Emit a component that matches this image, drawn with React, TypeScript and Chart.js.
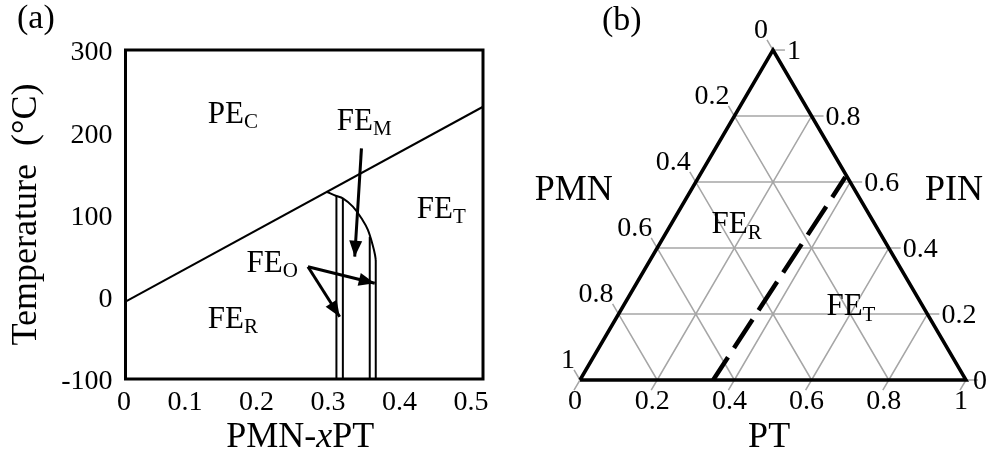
import React, { useEffect, useRef } from 'react';
import { Chart, registerables } from 'chart.js';

Chart.register(...registerables);

const SERIF = '"Liberation Serif", "Times New Roman", Times, serif';
const INK = '#000000';
const GRID_GREY = '#a6a6a6';

// ---------- (a) PMN-xPT phase diagram ----------
const X_MIN = 0;
const X_MAX = 0.5;
const X_STEP = 0.1;
const T_MIN = -100;
const T_MAX = 300;
const T_STEP = 100;

// Curie line separating PE_C from the ferroelectric phases
const CURIE_X = [0, 0.5];
const CURIE_T = [-6, 231];

// curved upper boundary of the MPB region
const DOME_X = [0.281, 0.295, 0.304, 0.318, 0.33, 0.339, 0.345, 0.349, 0.35];
const DOME_T = [127.7, 122.5, 119.7, 109.5, 95.4, 81.2, 65.0, 50.8, 44.7];

// vertical phase boundaries, each from its top temperature down to T_MIN
const BOUNDARY_X = [0.295, 0.304, 0.3416, 0.35];
const BOUNDARY_TOP_T = [122.5, 119.7, 73, 44.7];

// arrows (tail -> head)
const ARROW_TAIL_X = [0.33, 0.2552, 0.2552];
const ARROW_TAIL_T = [180.5, 36.5, 36.5];
const ARROW_HEAD_X = [0.3206, 0.2996, 0.3486];
const ARROW_HEAD_T = [48.7, -24.3, 16.4];

// phase names (main text + subscript), anchored at left/baseline
const PHASE_A_MAIN = ['PE', 'FE', 'FE', 'FE', 'FE'];
const PHASE_A_SUB = ['C', 'M', 'T', 'O', 'R'];
const PHASE_A_X = [0.115, 0.2955, 0.4074, 0.1694, 0.115];
const PHASE_A_T = [211, 202.7, 95.7, 30.1, -38];

// ---------- (b) PMN-PIN-PT ternary ----------
const TERN_TICKS = [0, 0.2, 0.4, 0.6, 0.8, 1];
const TERN_TICK_TEXT = ['0', '0.2', '0.4', '0.6', '0.8', '1'];

// dashed MPB across the ternary (PT, PIN fractions)
const MPB_PT = [0.38, 0.345];
const MPB_PIN = [0.615, 0];

const PHASE_B_MAIN = ['FE', 'FE'];
const PHASE_B_SUB = ['R', 'T'];
const PHASE_B_PT = [0.118, 0.54];
const PHASE_B_PIN = [0.446, 0.197];

const SQ3_2 = Math.sqrt(3) / 2;
// ternary (PT, PIN) -> cartesian, PMN = 1 - PT - PIN
const tern = (pt: number, pin: number) => ({ x: pt + pin / 2, y: pin * SQ3_2 });

function drawSubscripted(
  ctx: CanvasRenderingContext2D,
  x: number,
  y: number,
  main: string,
  sub: string,
  size: number,
  subSize: number,
  drop: number
) {
  ctx.save();
  ctx.fillStyle = INK;
  ctx.textAlign = 'left';
  ctx.textBaseline = 'alphabetic';
  ctx.font = `${size}px ${SERIF}`;
  ctx.fillText(main, x, y);
  const w = ctx.measureText(main).width;
  ctx.font = `${subSize}px ${SERIF}`;
  ctx.fillText(sub, x + w, y + drop);
  ctx.restore();
}

function line(points: { x: number; y: number }[], color: string, width: number, extra: any = {}) {
  return {
    data: points,
    showLine: true,
    borderColor: color,
    backgroundColor: color,
    borderWidth: width,
    pointRadius: 0,
    pointHoverRadius: 0,
    fill: false,
    tension: 0,
    ...extra,
  };
}

function PhaseDiagram() {
  const ref = useRef<HTMLCanvasElement | null>(null);
  useEffect(() => {
    if (!ref.current) return;

    const datasets: any[] = [];
    datasets.push(line(CURIE_X.map((x, i) => ({ x, y: CURIE_T[i] })), INK, 2));
    datasets.push(
      line(DOME_X.map((x, i) => ({ x, y: DOME_T[i] })), INK, 2, { cubicInterpolationMode: 'monotone' })
    );
    BOUNDARY_X.forEach((x, i) => {
      datasets.push(line([{ x, y: BOUNDARY_TOP_T[i] }, { x, y: T_MIN }], INK, 2));
    });
    ARROW_TAIL_X.forEach((x, i) => {
      datasets.push(
        line(
          [
            { x, y: ARROW_TAIL_T[i] },
            { x: ARROW_HEAD_X[i], y: ARROW_HEAD_T[i] },
          ],
          INK,
          3,
          { arrow: true }
        )
      );
    });

    const decor = {
      id: 'phaseDecor',
      afterDatasetsDraw(chart: any) {
        const { ctx, chartArea } = chart;
        const xs = chart.scales.x;
        const ys = chart.scales.y;
        ctx.save();
        // arrow heads
        chart.data.datasets.forEach((ds: any, i: number) => {
          if (!ds.arrow) return;
          const pts = chart.getDatasetMeta(i).data;
          const tip = pts[pts.length - 1];
          const prev = pts[pts.length - 2];
          const a = Math.atan2(tip.y - prev.y, tip.x - prev.x);
          const len = 16;
          const hw = 6.5;
          const bx = tip.x - len * Math.cos(a);
          const by = tip.y - len * Math.sin(a);
          ctx.beginPath();
          ctx.moveTo(tip.x, tip.y);
          ctx.lineTo(bx + hw * Math.sin(a), by - hw * Math.cos(a));
          ctx.lineTo(bx - hw * Math.sin(a), by + hw * Math.cos(a));
          ctx.closePath();
          ctx.fillStyle = INK;
          ctx.fill();
        });
        // plot frame
        ctx.strokeStyle = INK;
        ctx.lineWidth = 3;
        ctx.strokeRect(chartArea.left, chartArea.top, chartArea.right - chartArea.left, chartArea.bottom - chartArea.top);
        ctx.restore();

        // phase names
        PHASE_A_MAIN.forEach((m, i) => {
          drawSubscripted(ctx, xs.getPixelForValue(PHASE_A_X[i]), ys.getPixelForValue(PHASE_A_T[i]), m, PHASE_A_SUB[i], 31, 21, 5);
        });

        // x-axis title with italic x
        ctx.save();
        ctx.fillStyle = INK;
        ctx.textBaseline = 'alphabetic';
        ctx.textAlign = 'left';
        const parts: [string, string][] = [
          ['PMN-', 'normal'],
          ['x', 'italic'],
          ['PT', 'normal'],
        ];
        let total = 0;
        const widths = parts.map(([t, st]) => {
          ctx.font = `${st} 36px ${SERIF}`;
          const w = ctx.measureText(t).width;
          total += w;
          return w;
        });
        let cx = (chartArea.left + chartArea.right) / 2 - 4 - total / 2;
        parts.forEach(([t, st], i) => {
          ctx.font = `${st} 36px ${SERIF}`;
          ctx.fillText(t, cx, 447);
          cx += widths[i];
        });
        // panel tag
        ctx.font = `34px ${SERIF}`;
        ctx.fillText('(a)', 17, 28);
        ctx.restore();
      },
    };

    const chart = new Chart(ref.current, {
      type: 'scatter',
      data: { datasets },
      options: {
        animation: false,
        responsive: false,
        events: [],
        layout: { padding: { left: 0, top: 50, right: 47, bottom: 0 } },
        plugins: { legend: { display: false }, tooltip: { enabled: false } },
        scales: {
          x: {
            type: 'linear',
            min: X_MIN,
            max: X_MAX,
            grid: { display: false, drawTicks: false },
            border: { display: false },
            ticks: {
              stepSize: X_STEP,
              color: INK,
              font: { family: SERIF, size: 28 },
              padding: 7,
              labelOffset: -12,
              maxRotation: 0,
              minRotation: 0,
              autoSkip: false,
              callback: (v: any) => (Number(v) === 0 ? '   0' : Number(v).toFixed(1)),
            },
            afterFit: (s: any) => {
              s.height = 76;
            },
          },
          y: {
            type: 'linear',
            min: T_MIN,
            max: T_MAX,
            grid: { display: false, drawTicks: false },
            border: { display: false },
            ticks: {
              stepSize: T_STEP,
              color: INK,
              font: { family: SERIF, size: 28 },
              padding: 13,
              labelOffset: 3,
              autoSkip: false,
            },
            title: {
              display: true,
              text: 'Temperature  (°C)',
              color: INK,
              font: { family: SERIF, size: 36 },
              padding: { top: 5, bottom: 0 },
            },
            afterFit: (s: any) => {
              s.width = 125.5;
            },
          },
        },
      },
      plugins: [decor],
    } as any);
    return () => chart.destroy();
  }, []);
  return <canvas ref={ref} width={530} height={455} style={{ position: 'absolute', left: 0, top: 0 }} />;
}

function TernaryDiagram() {
  const ref = useRef<HTMLCanvasElement | null>(null);
  useEffect(() => {
    if (!ref.current) return;
    const tick = 0.031; // outward tick length, in side units

    const datasets: any[] = [];
    // triangle outline
    datasets.push(
      line([tern(0, 0), tern(1, 0), tern(0, 1), tern(0, 0)], INK, 3.5, { borderJoinStyle: 'miter', order: 0 })
    );
    // dashed boundary
    datasets.push(
      line(
        MPB_PT.map((pt, i) => tern(pt, MPB_PIN[i])),
        INK,
        4.5,
        { borderDash: [34, 11], borderDashOffset: 10, order: 1 }
      )
    );
    // grid lines with outward ticks
    TERN_TICKS.forEach((v) => {
      // constant PIN (horizontal), tick to the right
      const a = tern(0, v);
      const b = tern(1 - v, v);
      datasets.push(line([a, b, { x: b.x + tick, y: b.y }], GRID_GREY, 1.5, { order: 2 }));
      // constant PT (parallel to left side), tick down-left
      const c = tern(v, 0);
      const d = tern(v, 1 - v);
      datasets.push(line([{ x: c.x - tick / 2, y: c.y - tick * SQ3_2 }, c, d], GRID_GREY, 1.5, { order: 2 }));
      // constant PMN (parallel to right side), tick up-left
      const e = tern(0, 1 - v);
      const f = tern(1 - v, 0);
      datasets.push(line([{ x: e.x - tick / 2, y: e.y + tick * SQ3_2 }, e, f], GRID_GREY, 1.5, { order: 2 }));
    });

    const decor = {
      id: 'ternDecor',
      afterDatasetsDraw(chart: any) {
        const { ctx } = chart;
        const xs = chart.scales.x;
        const ys = chart.scales.y;
        const px = (pt: number, pin: number) => {
          const p = tern(pt, pin);
          return [xs.getPixelForValue(p.x), ys.getPixelForValue(p.y)];
        };
        ctx.save();
        ctx.fillStyle = INK;
        ctx.font = `28px ${SERIF}`;
        ctx.textBaseline = 'middle';
        TERN_TICKS.forEach((v, i) => {
          const txt = TERN_TICK_TEXT[i];
          // PMN, left side
          const [lx, ly] = px(0, 1 - v);
          ctx.textAlign = 'right';
          ctx.fillText(txt, lx - 5, ly - 19);
          // PIN, right side
          const [rx, ry] = px(1 - v, v);
          ctx.textAlign = 'left';
          ctx.fillText(txt, rx + (v === 0 ? 7 : 14), ry + 2);
          // PT, bottom
          const [bx, by] = px(v, 0);
          ctx.textAlign = 'center';
          ctx.fillText(txt, bx - 5, by + 22);
        });
        // component names
        ctx.font = `36px ${SERIF}`;
        ctx.textBaseline = 'alphabetic';
        ctx.textAlign = 'right';
        ctx.fillText('PMN', xs.getPixelForValue(0.085), ys.getPixelForValue(0.472));
        ctx.textAlign = 'left';
        ctx.fillText('PIN', xs.getPixelForValue(0.894), ys.getPixelForValue(0.472));
        ctx.textAlign = 'center';
        ctx.fillText('PT', xs.getPixelForValue(0.49), ys.getPixelForValue(-0.176));
        // panel tag
        ctx.textAlign = 'left';
        ctx.font = `34px ${SERIF}`;
        ctx.fillText('(b)', 72, 30);
        ctx.restore();

        PHASE_B_MAIN.forEach((m, i) => {
          const [x, y] = px(PHASE_B_PT[i], PHASE_B_PIN[i]);
          drawSubscripted(ctx, x, y, m, PHASE_B_SUB[i], 31, 21, 6);
        });
      },
    };

    const chart = new Chart(ref.current, {
      type: 'scatter',
      data: { datasets },
      options: {
        animation: false,
        responsive: false,
        events: [],
        layout: { padding: 0 },
        plugins: { legend: { display: false }, tooltip: { enabled: false } },
        scales: {
          x: { type: 'linear', display: false, min: -0.1295, max: 1.0674 },
          y: { type: 'linear', display: false, min: -0.19685, max: 0.99738 },
        },
      },
      plugins: [decor],
    } as any);
    return () => chart.destroy();
  }, []);
  return <canvas ref={ref} width={462} height={455} style={{ position: 'absolute', left: 530, top: 0 }} />;
}

export default function App() {
  return (
    <div
      style={{
        position: 'fixed',
        left: 0,
        top: 0,
        width: 992,
        height: 455,
        background: '#ffffff',
        overflow: 'hidden',
      }}
    >
      <PhaseDiagram />
      <TernaryDiagram />
    </div>
  );
}
